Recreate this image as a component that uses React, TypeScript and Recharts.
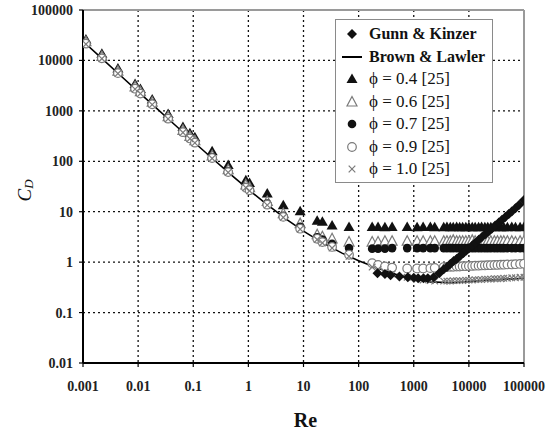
import React from 'react';
import { ScatterChart, Scatter, XAxis, YAxis, CartesianGrid, Legend, ReferenceLine, Label } from 'recharts';

// ---- axis ticks ----
const xTicks = [0.001, 0.01, 0.1, 1, 10, 100, 1000, 10000, 100000];
const yTicks = [0.01, 0.1, 1, 10, 100, 1000, 10000, 100000];

// ---- Brown & Lawler correlation curve ----
const blRe = [0.001, 0.002, 0.005, 0.01, 0.02, 0.05, 0.1, 0.2, 0.5, 1, 2, 5, 10, 20, 50, 100, 200, 500, 1000, 2000, 5000, 10000, 20000, 50000, 100000];
const blCd = [24000, 12000, 4800, 2416, 1212, 489, 247, 126, 52.5, 27.6, 14.9, 6.95, 4.13, 2.58, 1.51, 1.07, 0.79, 0.565, 0.463, 0.406, 0.39, 0.41, 0.436, 0.46, 0.48];

// ---- Gunn & Kinzer ----
const gkRe = [220, 300, 380, 550, 780, 1000, 1200, 1500, 1800, 2300, 2900, 3500, 4000, 4600, 5300, 6000, 7000, 8000, 9000, 10000, 11500, 13000, 15000, 17500, 20000, 23000, 26000, 30000, 35000, 40000, 46000, 53000, 60000, 70000, 82000, 100000];
const gkCd = [0.6, 0.58, 0.55, 0.52, 0.5, 0.49, 0.48, 0.48, 0.48, 0.5, 0.6, 0.72, 0.8, 0.92, 1.05, 1.16, 1.34, 1.52, 1.7, 1.88, 2.15, 2.4, 2.75, 3.2, 3.6, 4.1, 4.6, 5.3, 6.1, 6.9, 7.9, 9.0, 10.1, 11.7, 13.8, 17];

// ---- shape-factor data [25] ----
const reLow = [0.00113, 0.0022, 0.0043, 0.0088, 0.011, 0.018, 0.035, 0.065, 0.087, 0.107, 0.22, 0.43, 0.9, 1.05, 2.2, 4.3, 8.7, 17.7, 22, 33, 67];
const reHigh = [176, 225, 300, 405, 760, 1150, 1480, 2000, 2400, 3500, 4000, 4600, 5200, 6000, 6800, 7700, 8800, 10000, 11500, 13000, 15000, 17000, 19500, 22000, 25000, 29000, 33000, 38000, 43000, 50000, 60000, 70000, 85000, 100000];

const phi04Low = [26000, 13500, 6900, 3400, 2700, 1680, 870, 480, 360, 300, 158, 84, 42, 37, 23, 13.5, 10.2, 6.6, 6.3, 5.3, 5.0];
const phi04High = [5.0, 5.0, 4.9, 5.0, 5.0, 4.9, 5.0, 5.0, 4.9, 4.9, 5.0, 4.9, 4.9, 5.0, 4.9, 4.9, 4.9, 5.0, 4.9, 4.9, 4.9, 5.0, 4.9, 4.9, 4.9, 4.9, 5.0, 4.9, 4.9, 4.9, 5.0, 4.9, 4.9, 5.0];

const phi06Low = [23500, 12000, 6100, 3000, 2400, 1480, 765, 412, 310, 256, 128, 68, 34, 30, 16, 9.2, 5.8, 3.5, 3.2, 2.9, 2.5];
const phi06High = [2.5, 2.5, 2.6, 2.6, 2.6, 2.6, 2.6, 2.6, 2.6, 2.6, 2.6, 2.6, 2.7, 2.6, 2.6, 2.6, 2.6, 2.6, 2.7, 2.6, 2.6, 2.6, 2.6, 2.6, 2.6, 2.6, 2.6, 2.6, 2.6, 2.6, 2.6, 2.5, 2.6, 2.6];

const phi07Low = [22000, 11200, 5700, 2800, 2250, 1380, 715, 385, 290, 240, 120, 63, 31, 27.5, 14.5, 8.3, 5.0, 3.1, 2.8, 2.3, 1.9];
const phi07High = [1.85, 1.85, 1.85, 1.9, 1.9, 1.9, 1.9, 1.9, 1.9, 1.9, 1.9, 1.9, 1.9, 1.9, 1.9, 1.9, 1.9, 1.9, 1.9, 1.9, 1.9, 1.9, 1.9, 1.9, 1.9, 1.9, 1.9, 1.9, 1.9, 1.9, 1.9, 1.9, 1.9, 1.9];

const phi09Low = [21500, 11000, 5600, 2750, 2200, 1350, 700, 378, 284, 234, 116, 61, 30, 26.6, 13.8, 7.9, 4.6, 2.9, 2.5, 2.0, 1.4];
const phi09High = [0.95, 0.88, 0.82, 0.78, 0.75, 0.75, 0.75, 0.76, 0.77, 0.8, 0.8, 0.81, 0.81, 0.82, 0.82, 0.83, 0.83, 0.84, 0.84, 0.85, 0.85, 0.86, 0.86, 0.87, 0.87, 0.88, 0.88, 0.89, 0.89, 0.9, 0.9, 0.91, 0.92, 0.93];

const phi10Low = [21000, 10800, 5500, 2700, 2200, 1330, 690, 372, 280, 232, 114, 60, 30, 26, 13.5, 7.7, 4.5, 2.8, 2.4, 1.9, 1.3];
const phi10High = [0.8, 0.72, 0.64, 0.58, 0.5, 0.46, 0.44, 0.43, 0.42, 0.42, 0.42, 0.42, 0.43, 0.43, 0.43, 0.43, 0.44, 0.44, 0.44, 0.45, 0.45, 0.45, 0.46, 0.46, 0.46, 0.47, 0.47, 0.47, 0.48, 0.48, 0.49, 0.49, 0.5, 0.5];

const zip = (re: number[], cd: number[]) => re.map((r, i) => ({ re: r, cd: cd[i] }));

const blData = zip(blRe, blCd);
const gkData = zip(gkRe, gkCd);
const phi04 = zip([...reLow, ...reHigh], [...phi04Low, ...phi04High]);
const phi06 = zip([...reLow, ...reHigh], [...phi06Low, ...phi06High]);
const phi07 = zip([...reLow, ...reHigh], [...phi07Low, ...phi07High]);
const phi09 = zip([...reLow, ...reHigh], [...phi09Low, ...phi09High]);
const phi10 = zip([...reLow, ...reHigh], [...phi10Low, ...phi10High]);

const GRAY = '#7a7a7a';
const SERIF = "'Times New Roman', 'Liberation Serif', serif";

// ---- marker shapes ----
const FilledTri = (p: any) => {
  const { cx, cy } = p;
  if (cx == null || cy == null) return <g />;
  return <polygon points={`${cx},${cy - 5.5} ${cx + 5.5},${cy + 4} ${cx - 5.5},${cy + 4}`} fill="#111" />;
};
const OpenTri = (p: any) => {
  const { cx, cy } = p;
  if (cx == null || cy == null) return <g />;
  return <polygon points={`${cx},${cy - 5.5} ${cx + 5},${cy + 4} ${cx - 5},${cy + 4}`} fill="#fff" stroke={GRAY} strokeWidth={1.2} />;
};
const FilledCircle = (p: any) => {
  const { cx, cy } = p;
  if (cx == null || cy == null) return <g />;
  return <circle cx={cx} cy={cy} r={4.3} fill="#111" />;
};
const OpenCircle = (p: any) => {
  const { cx, cy } = p;
  if (cx == null || cy == null) return <g />;
  return <circle cx={cx} cy={cy} r={4.3} fill="#fff" stroke={GRAY} strokeWidth={1.2} />;
};
const XMark = (p: any) => {
  const { cx, cy } = p;
  if (cx == null || cy == null) return <g />;
  const s = 3.3;
  return (
    <g stroke={GRAY} strokeWidth={1.2}>
      <line x1={cx - s} y1={cy - s} x2={cx + s} y2={cy + s} />
      <line x1={cx - s} y1={cy + s} x2={cx + s} y2={cy - s} />
    </g>
  );
};
const Diamond = (p: any) => {
  const { cx, cy } = p;
  if (cx == null || cy == null) return <g />;
  return <polygon points={`${cx},${cy - 5} ${cx + 5},${cy} ${cx},${cy + 5} ${cx - 5},${cy}`} fill="#111" />;
};
const NoShape = () => <g />;

// ---- legend ----
const legendRows = [
  { key: 'gk', label: 'Gunn & Kinzer', bold: true, icon: 'diamond' },
  { key: 'bl', label: 'Brown & Lawler', bold: true, icon: 'line' },
  { key: 'p4', label: 'ϕ = 0.4 [25]', bold: false, icon: 'ftri' },
  { key: 'p6', label: 'ϕ = 0.6 [25]', bold: false, icon: 'otri' },
  { key: 'p7', label: 'ϕ = 0.7 [25]', bold: false, icon: 'fcirc' },
  { key: 'p9', label: 'ϕ = 0.9 [25]', bold: false, icon: 'ocirc' },
  { key: 'p10', label: 'ϕ = 1.0 [25]', bold: false, icon: 'x' },
];

const LegendIcon = ({ icon }: { icon: string }) => {
  const cx = 10, cy = 10;
  let el: any = null;
  if (icon === 'diamond') el = <Diamond cx={cx} cy={cy} />;
  else if (icon === 'line') el = <line x1={0} y1={cy} x2={20} y2={cy} stroke="#000" strokeWidth={2} />;
  else if (icon === 'ftri') el = <FilledTri cx={cx} cy={cy} />;
  else if (icon === 'otri') el = <OpenTri cx={cx} cy={cy} />;
  else if (icon === 'fcirc') el = <FilledCircle cx={cx} cy={cy} />;
  else if (icon === 'ocirc') el = <OpenCircle cx={cx} cy={cy} />;
  else el = <XMark cx={cx} cy={cy} />;
  return <svg width={20} height={20} style={{ display: 'block' }}>{el}</svg>;
};

const LegendBox = () => (
  <div
    style={{
      width: 158,
      height: 164,
      border: '1.5px solid #8a8a8a',
      background: '#fff',
      boxSizing: 'border-box',
      paddingTop: 3,
    }}
  >
    {legendRows.map((r) => (
      <div key={r.key} style={{ display: 'flex', alignItems: 'center', height: 22.5 }}>
        <div style={{ width: 20, marginLeft: 6, marginRight: 7 }}>
          <LegendIcon icon={r.icon} />
        </div>
        <span
          style={{
            fontFamily: SERIF,
            fontWeight: r.bold ? 'bold' : 'normal',
            fontSize: r.bold ? 16 : 17,
            color: '#111',
            whiteSpace: 'nowrap',
            lineHeight: '20px',
          }}
        >
          {r.label}
        </span>
      </div>
    ))}
  </div>
);

const YTitle = (props: any) => {
  const vb = props.viewBox || { x: 0, y: 10, width: 83, height: 353 };
  const x = vb.x + 24;
  const y = vb.y + vb.height / 2 + 4;
  return (
    <text
      x={x}
      y={y}
      transform={`rotate(-90 ${x} ${y})`}
      textAnchor="middle"
      dominantBaseline="central"
      fontFamily={SERIF}
      fontStyle="italic"
      fontSize={19}
      fill="#111"
    >
      C<tspan fontSize={13} dy={4}>D</tspan>
    </text>
  );
};

const XTitle = (props: any) => {
  const vb = props.viewBox || { x: 83, y: 363, width: 441, height: 70 };
  return (
    <text
      x={vb.x + vb.width / 2 + 2}
      y={vb.y + 64}
      textAnchor="middle"
      fontFamily={SERIF}
      fontWeight="bold"
      fontSize={20}
      fill="#111"
    >
      Re
    </text>
  );
};

const tickStyle = { fill: '#222', fontSize: 14, fontFamily: SERIF, fontWeight: 'bold' as const };

export default function App() {
  return (
    <div style={{ position: 'absolute', left: 0, top: 0, width: 553, height: 433, background: '#fff' }}>
      <ScatterChart width={553} height={433} margin={{ top: 10, right: 29, bottom: 0, left: 0 }}>
        <CartesianGrid stroke="#111" strokeDasharray="2 3" strokeWidth={1.3} />
        <XAxis
          type="number"
          dataKey="re"
          scale="log"
          domain={[0.001, 100000]}
          ticks={xTicks}
          interval={0}
          allowDataOverflow
          height={70}
          axisLine={{ stroke: '#000', strokeWidth: 2 }}
          tickLine={{ stroke: '#000', strokeWidth: 1.2 }}
          tickSize={4}
          tickMargin={14}
          tick={tickStyle}
          tickFormatter={(v: number) => String(v)}
        >
          <Label content={<XTitle />} />
        </XAxis>
        <YAxis
          type="number"
          dataKey="cd"
          scale="log"
          domain={[0.01, 100000]}
          ticks={yTicks}
          interval={0}
          allowDataOverflow
          width={83}
          axisLine={{ stroke: '#000', strokeWidth: 2 }}
          tickLine={{ stroke: '#000', strokeWidth: 1.2 }}
          tickSize={4}
          tickMargin={6}
          tick={tickStyle}
          tickFormatter={(v: number) => String(v)}
        >
          <Label content={<YTitle />} />
        </YAxis>
        <ReferenceLine y={100000} stroke="#9a9a9a" strokeWidth={2} />
        <ReferenceLine x={100000} stroke="#9a9a9a" strokeWidth={2} />
        <Legend
          layout="vertical"
          align="center"
          verticalAlign="middle"
          content={() => <LegendBox />}
          wrapperStyle={{ left: 335, top: 19, width: 158, height: 164 }}
        />
        <Scatter name="Brown & Lawler" data={blData} line={{ stroke: '#000', strokeWidth: 1.6 }} shape={NoShape} isAnimationActive={false} />
        <Scatter name="ϕ = 0.4 [25]" data={phi04} shape={FilledTri} isAnimationActive={false} />
        <Scatter name="ϕ = 0.6 [25]" data={phi06} shape={OpenTri} isAnimationActive={false} />
        <Scatter name="ϕ = 0.7 [25]" data={phi07} shape={FilledCircle} isAnimationActive={false} />
        <Scatter name="ϕ = 0.9 [25]" data={phi09} shape={OpenCircle} isAnimationActive={false} />
        <Scatter name="ϕ = 1.0 [25]" data={phi10} shape={XMark} isAnimationActive={false} />
        <Scatter name="Gunn & Kinzer" data={gkData} shape={Diamond} isAnimationActive={false} />
      </ScatterChart>
    </div>
  );
}
